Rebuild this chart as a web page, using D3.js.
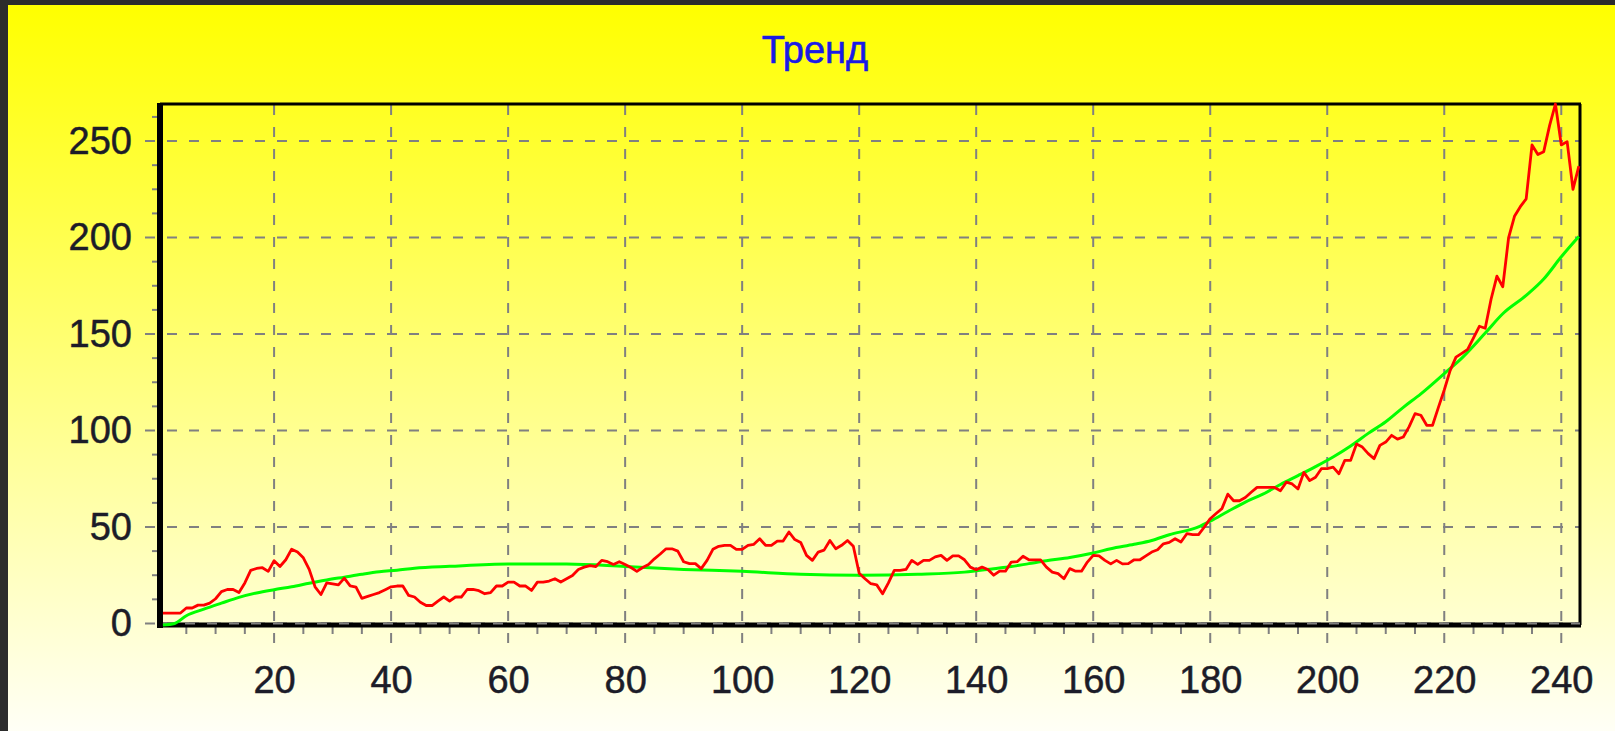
<!DOCTYPE html>
<html lang="ru">
<head>
<meta charset="UTF-8">
<title>Тренд</title>
<style>
  html, body { margin: 0; padding: 0; background: #2c2c2c; }
  svg { display: block; }
  text { font-family: "Liberation Sans", Arial, sans-serif; }
</style>
</head>
<body>
<script src="https://d3js.org/d3.v7.min.js"></script>
<script>
// tick labels
const xTicks = [20, 40, 60, 80, 100, 120, 140, 160, 180, 200, 220, 240]
const yTicks = [0, 50, 100, 150, 200, 250]

// red series, one value per period 1..243
const price = [
  5.4, 5.4, 5.4, 5.4, 8, 8, 9.5, 9.5, 10.5, 12.8,
  16.5, 17.6, 17.6, 16, 21, 27.5, 28.5, 28.9, 27, 32.5,
  29.5, 33, 38.5, 37, 34, 28, 19, 15, 21, 20.5,
  20, 23.5, 19.5, 18.8, 13, 14, 15, 16, 17.5, 19,
  19.4, 19.4, 14.5, 13.7, 11, 9.3, 9.3, 11.6, 13.7, 11.6,
  13.7, 13.7, 17.6, 17.6, 17, 15.4, 16, 19.4, 19.4, 21.4,
  21.4, 19.4, 19.4, 17.1, 21.4, 21.4, 22, 23.2, 21.5, 23.2,
  24.9, 28, 29.2, 30, 29.5, 32.7, 32, 30.6, 32, 30.6,
  29, 27, 29, 30.6, 33.5, 36, 38.7, 38.7, 37.5, 32,
  31, 31, 28.4, 32.7, 38.4, 40, 40.5, 40.5, 38.4, 38.4,
  40.5, 41, 43.9, 40.5, 40.5, 42.7, 42.7, 47.4, 43.5, 42,
  35.3, 32.7, 37, 38, 43, 38.7, 40.5, 43, 40, 26,
  23.2, 20.6, 20, 15.4, 21, 27.5, 27.5, 28, 32.7, 30.6,
  32.7, 32.7, 34.5, 35.3, 32.7, 35, 35, 33, 29.2, 27.8,
  29.2, 28, 25, 27.1, 27.1, 31.8, 32, 34.8, 33, 33,
  33, 29.2, 26.6, 25.8, 23.2, 28.4, 27.1, 27.1, 31.8, 35.3,
  35, 32.7, 30.9, 32.7, 30.9, 31, 33, 33, 35, 37,
  38.2, 41.3, 42, 43.9, 42.2, 46.5, 46, 46, 50, 54.3,
  57, 59.5, 67, 63.6, 63.6, 65.3, 68, 70.5, 70.5, 70.5,
  70.5, 68.8, 73.2, 72.3, 69.7, 78.3, 74, 75.8, 80.2, 80.2,
  81, 77.6, 84.5, 84.5, 93, 91.4, 88, 85.4, 92.3, 94,
  97.5, 95.5, 96.6, 102, 108.7, 107.9, 102.7, 102.7, 112, 121,
  131, 138, 140, 142, 148, 154, 153, 168, 180, 174.5,
  200, 211, 216, 220, 248, 243, 244.5, 258, 269.2, 248,
  249.7, 225, 237
]

// green trend, read at these periods
const trendX = [1, 3, 5, 8, 11, 14, 17, 20, 23, 26, 29, 32, 35, 38, 41, 44, 50, 60, 70, 80,
  90, 100, 110, 120, 130, 138, 143, 146, 149, 152, 156, 160, 163, 167, 170, 173, 178, 180, 183, 186,
  189, 192, 195, 198, 201, 204, 207, 210, 213, 216, 220, 223, 227, 230, 234, 237, 240, 243]
const trendY = [-0.8, 0, 4, 7.4, 10.5, 13.5, 15.8, 17.5, 19, 20.8, 22.5, 24, 25.5, 26.8, 27.6, 28.6, 29.6, 30.8, 30.8, 29.5,
  28, 27, 25.5, 25, 25.5, 26.6, 28.4, 29.5, 31, 32.5, 34.2, 36.5, 38.7, 41, 43, 46, 50, 53, 58, 62.9,
  67, 72, 76.6, 81.3, 86.3, 92, 98.5, 104.5, 112, 119, 129.5, 137.5, 150.5, 160.5, 170, 178.5, 190, 200.5]

const width = 1615
const height = 731
const plotLeft = 160, plotRight = 1580, plotTop = 104, plotBottom = 625

const priceData = price.map((v, i) => [i + 1, v])
const trendData = trendX.map((d, i) => [d, trendY[i]])

const x = d3.scaleLinear()
  .domain([0.5, 243.2])
  .range([plotLeft, plotRight])

const y = d3.scaleLinear()
  .domain(d3.extent(price.concat(trendY)))
  .range([plotBottom, plotTop])

const svg = d3.select('body')
  .append('svg')
  .attr('width', width)
  .attr('height', height)

// background gradient
const grad = svg.append('defs').append('linearGradient')
  .attr('id', 'bg')
  .attr('x1', 0).attr('y1', 0).attr('x2', 0).attr('y2', 1)
grad.append('stop').attr('offset', '0%').attr('stop-color', '#ffff00')
grad.append('stop').attr('offset', '100%').attr('stop-color', '#fffff6')

svg.append('rect')
  .attr('x', 8).attr('y', 5)
  .attr('width', width - 8).attr('height', height - 5)
  .attr('fill', 'url(#bg)')

svg.append('text')
  .attr('x', 815)
  .attr('y', 63)
  .attr('text-anchor', 'middle')
  .attr('fill', '#1a1ae6')
  .attr('stroke', '#1a1ae6')
  .attr('stroke-width', 0.6)
  .style('font-size', '38px')
  .text('Тренд')

const gridColor = '#808080'

// grid lines (also act as major ticks outside the frame)
svg.append('g').selectAll('line')
  .data(yTicks)
  .join('line')
  .attr('x1', 145).attr('x2', plotRight)
  .attr('y1', d => y(d)).attr('y2', d => y(d))
  .attr('stroke', gridColor)
  .attr('stroke-width', 2)
  .attr('stroke-dasharray', '10,12')

svg.append('g').selectAll('line')
  .data(xTicks)
  .join('line')
  .attr('x1', d => x(d)).attr('x2', d => x(d))
  .attr('y1', 643).attr('y2', plotTop)
  .attr('stroke', gridColor)
  .attr('stroke-width', 2)
  .attr('stroke-dasharray', '10,12')

// minor ticks
const xMinor = d3.range(5, 241, 5).filter(d => d % 20 !== 0)
const yMinor = d3.range(12.5, 265, 12.5).filter(d => d % 50 !== 0)

svg.append('g').selectAll('line')
  .data(xMinor)
  .join('line')
  .attr('x1', d => x(d)).attr('x2', d => x(d))
  .attr('y1', plotBottom).attr('y2', 634)
  .attr('stroke', gridColor)
  .attr('stroke-width', 2)

svg.append('g').selectAll('line')
  .data(yMinor)
  .join('line')
  .attr('x1', 152).attr('x2', plotLeft)
  .attr('y1', d => y(d)).attr('y2', d => y(d))
  .attr('stroke', gridColor)
  .attr('stroke-width', 2)

// frame
svg.append('line').attr('x1', plotLeft).attr('x2', plotRight + 1).attr('y1', plotTop).attr('y2', plotTop)
  .attr('stroke', '#000').attr('stroke-width', 3)
svg.append('line').attr('x1', plotRight).attr('x2', plotRight).attr('y1', plotTop).attr('y2', plotBottom)
  .attr('stroke', '#000').attr('stroke-width', 3)
svg.append('line').attr('x1', plotLeft).attr('x2', plotLeft).attr('y1', plotTop - 1).attr('y2', plotBottom + 3)
  .attr('stroke', '#000').attr('stroke-width', 6)
svg.append('line').attr('x1', plotLeft - 3).attr('x2', plotRight + 1).attr('y1', plotBottom).attr('y2', plotBottom)
  .attr('stroke', '#000').attr('stroke-width', 5)

// zero grid line drawn over the thick bottom axis
svg.append('line')
  .attr('x1', plotLeft + 3).attr('x2', plotRight)
  .attr('y1', y(0)).attr('y2', y(0))
  .attr('stroke', gridColor)
  .attr('stroke-width', 2)
  .attr('stroke-dasharray', '10,12')

// axis labels
const xAxis = svg.append('g')
  .attr('transform', `translate(0, ${plotBottom})`)
  .call(d3.axisBottom(x).tickValues(xTicks).tickSize(0).tickPadding(41))
xAxis.select('.domain').remove()

const yAxis = svg.append('g')
  .attr('transform', `translate(${plotLeft}, 0)`)
  .call(d3.axisLeft(y).tickValues(yTicks).tickSize(0).tickPadding(28))
yAxis.select('.domain').remove()

svg.selectAll('.tick text')
  .attr('fill', '#1c1c28')
  .attr('stroke', '#1c1c28')
  .attr('stroke-width', 0.5)
  .style('font-size', '38px')
  .style('font-family', '"Liberation Sans", Arial, sans-serif')

// series
const trendLine = d3.line()
  .x(d => x(d[0]))
  .y(d => y(d[1]))
  .curve(d3.curveMonotoneX)

const priceLine = d3.line()
  .x(d => x(d[0]))
  .y(d => y(d[1]))

svg.append('path')
  .datum(trendData)
  .attr('fill', 'none')
  .attr('stroke', '#00ff00')
  .attr('stroke-width', 3)
  .attr('d', trendLine)

svg.append('path')
  .datum(priceData)
  .attr('fill', 'none')
  .attr('stroke', '#ff0000')
  .attr('stroke-width', 2.8)
  .attr('stroke-linejoin', 'round')
  .attr('d', priceLine)
</script>
</body>
</html>
